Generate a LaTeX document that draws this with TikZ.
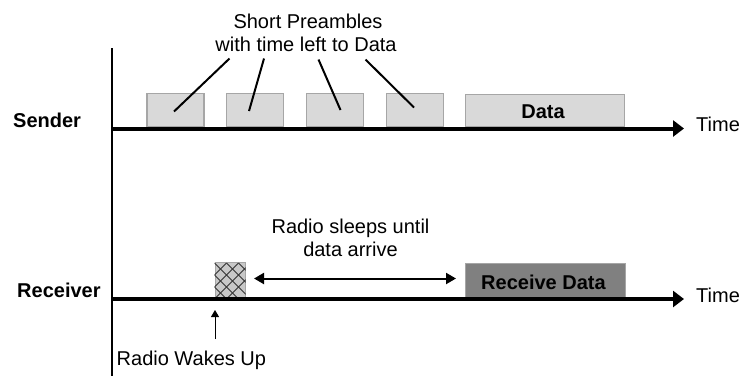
\documentclass[tikz,border=0pt]{standalone}
\usepackage{fontspec}
\setmainfont{Liberation Sans}
\usetikzlibrary{arrows.meta}
\definecolor{boxfill}{HTML}{D9D9D9}
\definecolor{boxline}{HTML}{A6A6A6}
\definecolor{darkfill}{HTML}{808080}
\definecolor{hatchfill}{HTML}{C8C8C8}
\tikzset{
  lbl/.style={font=\fontsize{20}{23}\selectfont, inner sep=0pt},
  blbl/.style={font=\fontsize{20}{23}\selectfont\bfseries, inner sep=0pt},
  prebox/.style={draw=boxline, fill=boxfill, line width=1.5pt, minimum height=33pt, inner sep=0pt, anchor=south west},
  axisline/.style={line width=4pt, -{Triangle[length=11pt,width=16pt]}},
  pointer/.style={line width=2pt},
}
\begin{document}
\begin{tikzpicture}[x=1pt,y=-1pt]
\useasboundingbox (0,0) rectangle (741,376);
% vertical axis
\coordinate (vtop) at (112,48);
\coordinate (vbot) at (112,376);
\draw[line width=2pt] (vtop) -- (vbot);
% sender axis
\coordinate (s0) at (112,128.5);
\coordinate (s1) at (684,128.5);
% boxes
\node[prebox, minimum width=57pt] (p1) at (146,127) {};
\node[prebox, minimum width=57pt] (p2) at (225.5,127) {};
\node[prebox, minimum width=57pt] (p3) at (305.5,127) {};
\node[prebox, minimum width=57pt] (p4) at (385.5,127) {};
\node[prebox, minimum width=159pt, minimum height=32pt] (data) at (464.5,127) {};
\node[blbl, anchor=base] (datat) at (543,118.5) {Data};
\draw[axisline] (s0) -- (s1);
\node[lbl, anchor=base west] (time1) at (696,131) {Time};
\node[blbl, anchor=base west] (sender) at (13,127.5) {Sender};
% preamble label
\node[lbl, anchor=base] (pre1) at (308,28) {Short Preambles};
\node[lbl, anchor=base] (pre2) at (306,51) {with time left to Data};
\coordinate (a1) at (229.5,58.5);
\coordinate (a2) at (264,58.5);
\coordinate (a3) at (318.5,59.5);
\coordinate (a4) at (365.5,59.5);
\coordinate (b1) at (174,111.5);
\coordinate (b2) at (249,111);
\coordinate (b3) at (340.5,110);
\coordinate (b4) at (414,107.5);
\draw[pointer] (a1) -- (b1);
\draw[pointer] (a2) -- (b2);
\draw[pointer] (a3) -- (b3);
\draw[pointer] (a4) -- (b4);
% receiver axis
\coordinate (r0) at (112,299);
\coordinate (r1) at (684,299);
\node[draw=boxline, fill=hatchfill, line width=1pt, minimum width=30pt, minimum height=35pt, inner sep=0pt, anchor=south west] (wake) at (214.5,298) {};
\begin{scope}
\clip (wake.south west) rectangle (wake.north east);
\foreach \i in {-4,...,4} {
  \draw[line width=0.8pt, black!80] (214.5+\i*12,263) -- ++(40,40);
  \draw[line width=0.8pt, black!80] (214.5+\i*12,263) -- ++(-40,40);
}
\end{scope}
\node[draw=boxline, fill=darkfill, line width=1.5pt, minimum width=160pt, minimum height=34pt, inner sep=0pt, anchor=south west] (recv) at (464.5,298) {};
\node[blbl, anchor=base] (recvt) at (543.5,289.5) {Receive Data};
\draw[axisline] (r0) -- (r1);
\node[lbl, anchor=base west] (time2) at (696,302) {Time};
\node[blbl, anchor=base west] (receiver) at (17,297) {Receiver};
% sleep arrow
\coordinate (sl0) at (254,278.5);
\coordinate (sl1) at (456,278.5);
\draw[line width=2pt, {Triangle[length=10pt,width=11pt]}-{Triangle[length=10pt,width=11pt]}] (sl0) -- (sl1);
\node[lbl, anchor=base] (sleep1) at (350.5,233) {Radio sleeps until};
\node[lbl, anchor=base] (sleep2) at (350.5,256.5) {data arrive};
% wake arrow
\coordinate (w0) at (215,339);
\coordinate (w1) at (215,310);
\draw[line width=1pt, -{Triangle[length=7pt,width=8pt]}] (w0) -- (w1);
\node[lbl, anchor=base west] (wakes) at (116.5,365) {Radio Wakes Up};
\end{tikzpicture}
\end{document}
